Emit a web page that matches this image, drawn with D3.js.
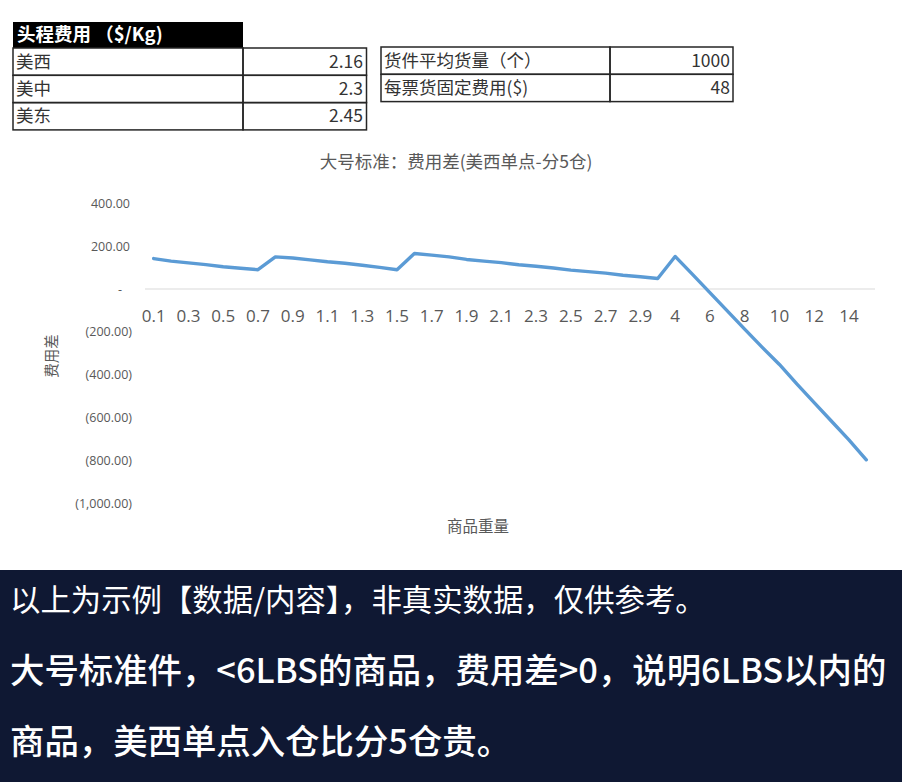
<!DOCTYPE html>
<html>
<head>
<meta charset="utf-8">
<script src="https://cdn.jsdelivr.net/npm/d3@7"></script>
<style>
  html, body { margin: 0; padding: 0; background: #fff; }
  svg { display: block; }
</style>
</head>
<body>
<div id="chart"></div>
<script>
// head-haul cost table
const regions = ["美西", "美中", "美东"];
const regionCosts = ["2.16", "2.3", "2.45"];
// shipment parameters table
const paramNames = ["货件平均货量（个）", "每票货固定费用($)"];
const paramValues = ["1000", "48"];

// weight categories (kg) and cost difference (美西单点 - 分5仓)
const weights = ["0.1","0.2","0.3","0.4","0.5","0.6","0.7","0.8","0.9","1.0",
  "1.1","1.2","1.3","1.4","1.5","1.6","1.7","1.8","1.9","2.0",
  "2.1","2.2","2.3","2.4","2.5","2.6","2.7","2.8","2.9","3",
  "4","5","6","7","8","9","10","11","12","13","14","15"];
const costDiff = [142, 130, 122, 114, 104, 97, 90, 150, 145, 136,
  127, 120, 111, 101, 90, 166, 158, 150, 138, 130,
  123, 113, 106, 98, 88, 81, 74, 64, 57, 49,
  152, 68, -17, -102, -187, -271, -352, -443, -530, -617, -704, -797];
const yTicks = [400, 200, 0, -200, -400, -600, -800, -1000];

const notes = ["以上为示例【数据/内容】，非真实数据，仅供参考。",
  "大号标准件，<6LBS的商品，费用差>0，说明6LBS以内的",
  "商品，美西单点入仓比分5仓贵。"];

const W = 902, H = 782;
const cjk = "'Noto Sans CJK SC', 'Noto Sans', sans-serif";
const grey = "#595959";

const svg = d3.select("#chart").append("svg")
  .attr("width", W).attr("height", H);

svg.append("rect").attr("width", W).attr("height", H).attr("fill", "#fff");

// ---- tables ----
const rowH = 27.3;
const t1 = svg.append("g").attr("font-family", cjk).attr("font-size", 17.5);
t1.append("rect").attr("x", 13).attr("y", 22).attr("width", 230).attr("height", 26).attr("fill", "#000");
t1.append("text").attr("x", 17).attr("y", 35).attr("dy", "0.35em").attr("font-size", 18.5)
  .attr("fill", "#fff").attr("font-weight", 700).text("头程费用 （$/Kg)");

regions.forEach((r, i) => {
  let y0 = 48 + i * rowH;
  t1.append("rect").attr("x", 13).attr("y", y0).attr("width", 230).attr("height", rowH)
    .attr("fill", "none").attr("stroke", "#262626").attr("stroke-width", 1.5);
  t1.append("rect").attr("x", 243).attr("y", y0).attr("width", 123.5).attr("height", rowH)
    .attr("fill", "none").attr("stroke", "#262626").attr("stroke-width", 1.5);
  t1.append("text").attr("x", 16).attr("y", y0 + rowH / 2).attr("dy", "0.35em").attr("fill", "#333").text(r);
  t1.append("text").attr("x", 363).attr("y", y0 + rowH / 2).attr("dy", "0.35em").attr("fill", "#333")
    .attr("text-anchor", "end").text(regionCosts[i]);
});

paramNames.forEach((p, i) => {
  let y0 = 47 + i * rowH;
  t1.append("rect").attr("x", 381).attr("y", y0).attr("width", 229).attr("height", rowH)
    .attr("fill", "none").attr("stroke", "#262626").attr("stroke-width", 1.5);
  t1.append("rect").attr("x", 610).attr("y", y0).attr("width", 123).attr("height", rowH)
    .attr("fill", "none").attr("stroke", "#262626").attr("stroke-width", 1.5);
  t1.append("text").attr("x", 384).attr("y", y0 + rowH / 2).attr("dy", "0.35em").attr("fill", "#333").text(p);
  t1.append("text").attr("x", 730).attr("y", y0 + rowH / 2).attr("dy", "0.35em").attr("fill", "#333")
    .attr("text-anchor", "end").text(paramValues[i]);
});

// ---- chart ----
const x = d3.scaleBand().domain(weights).range([145, 875]).padding(0);
const y = d3.scaleLinear().domain([-1000, 400]).range([503.3, 203.3]);
const cx = d => x(d) + x.bandwidth() / 2;

svg.append("text").attr("x", 456).attr("y", 162).attr("dy", "0.35em")
  .attr("text-anchor", "middle").attr("font-family", cjk).attr("font-size", 17.5)
  .attr("fill", grey).text("大号标准：费用差(美西单点-分5仓)");

// y axis labels in accounting style
const fmt = d3.format(",.2f");
const yAxis = svg.append("g").attr("transform", "translate(130,0)")
  .call(d3.axisLeft(y).tickValues(yTicks).tickSize(0).tickPadding(0)
    .tickFormat(v => v === 0 ? "-" : v < 0 ? `(${fmt(-v)})` : fmt(v)));
yAxis.select(".domain").remove();
yAxis.selectAll("text")
  .attr("font-family", "'Open Sans', sans-serif").attr("font-size", 12.5).attr("fill", grey)
  .attr("dx", v => v === 0 ? -8 : v < 0 ? 2 : 0);

// zero line
svg.append("line").attr("x1", 145).attr("x2", 875).attr("y1", y(0)).attr("y2", y(0))
  .attr("stroke", "#d9d9d9").attr("stroke-width", 1);

// x axis labels
const xAxis = svg.append("g").attr("transform", `translate(0,${y(0)})`)
  .call(d3.axisBottom(x).tickValues(weights.filter((d, i) => i % 2 === 0)).tickSize(0).tickPadding(21));
xAxis.select(".domain").remove();
xAxis.selectAll("text")
  .attr("font-family", "'Open Sans', sans-serif").attr("font-size", 17).attr("fill", grey);

// axis titles
svg.append("text").attr("transform", "translate(52,356) rotate(-90)").attr("dy", "0.35em")
  .attr("text-anchor", "middle").attr("font-family", cjk).attr("font-size", 14.5).attr("fill", grey).text("费用差");
svg.append("text").attr("x", 478).attr("y", 527).attr("dy", "0.35em")
  .attr("text-anchor", "middle").attr("font-family", cjk).attr("font-size", 15.5).attr("fill", grey).text("商品重量");

// the line
const line = d3.line().x((d, i) => cx(weights[i])).y(d => y(d));
svg.append("path").datum(costDiff)
  .attr("fill", "none").attr("stroke", "#5b9bd5").attr("stroke-width", 3.4)
  .attr("stroke-linejoin", "round").attr("stroke-linecap", "round").attr("d", line);

// ---- caption box ----
svg.append("rect").attr("x", 0).attr("y", 570).attr("width", W).attr("height", H - 570).attr("fill", "#0f1833");
const noteY = [600, 671, 742], noteSize = [30.4, 34.4, 34.4], noteWeight = [400, 500, 500];
notes.forEach((n, i) => {
  svg.append("text").attr("x", 10).attr("y", noteY[i]).attr("dy", "0.36em")
    .attr("font-family", cjk).attr("font-size", noteSize[i]).attr("font-weight", noteWeight[i])
    .attr("fill", "#fff").text(n);
});
</script>
</body>
</html>
